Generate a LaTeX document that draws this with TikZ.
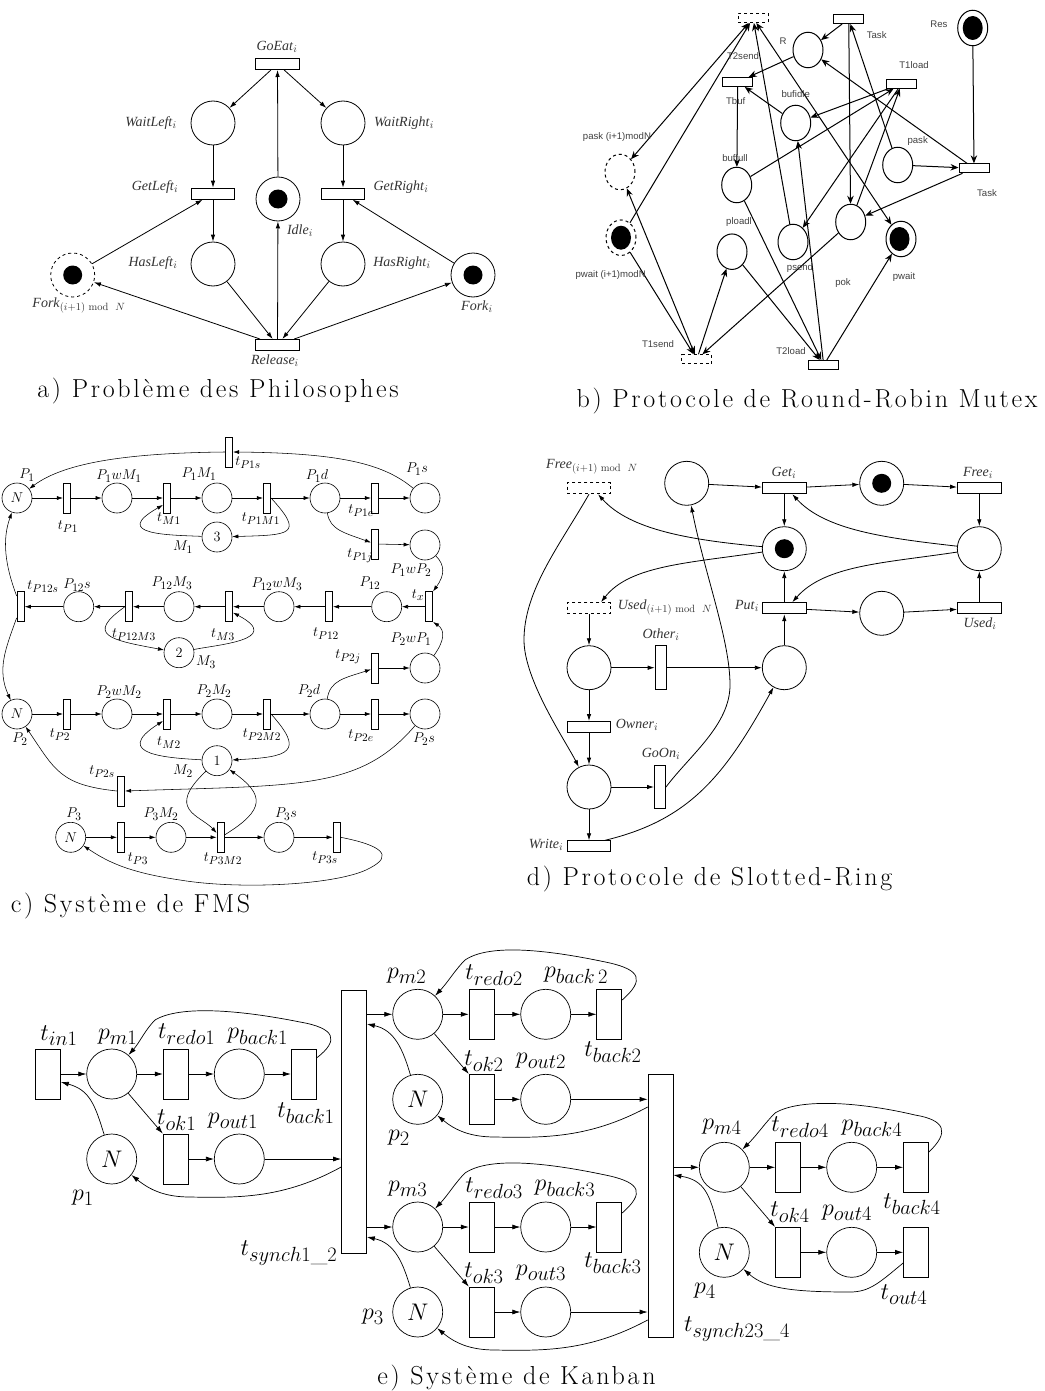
\documentclass[tikz,border=0pt]{standalone}
\usepackage{fix-cm}
\usepackage{fontspec}
\newfontfamily\timesf{Liberation Serif}
\newfontfamily\arialf{Liberation Sans}
\newfontfamily\legf{Latin Modern Roman}[LetterSpace=10.5]
\DeclareMathSizes{14}{14}{10.5}{8}
\DeclareMathSizes{14.2}{14.2}{11.4}{9}
\DeclareMathSizes{24}{24}{20.5}{15}
\usetikzlibrary{shapes.geometric,arrows.meta}
\tikzset{
	place/.style={circle,draw,inner sep=0pt},
	trans/.style={rectangle,draw,fill=white,inner sep=0pt},
	pa/.style={place,line width=.8pt,minimum size=44pt},
	pb/.style={ellipse,draw,inner sep=0pt,line width=1pt,minimum width=30pt,minimum height=35.5pt},
	pc/.style={place,line width=.6pt,minimum size=30pt,font=\fontsize{14.2}{16}\selectfont},
	pe/.style={place,line width=.7pt,minimum size=50pt,font=\fontsize{24}{26}\selectfont},
	ta/.style={trans,line width=1pt,minimum width=43.5pt,minimum height=11pt},
	tav/.style={trans,line width=1pt,minimum width=11pt,minimum height=43.5pt},
	tb/.style={trans,line width=1pt,minimum width=30pt,minimum height=9pt},
	tc/.style={trans,line width=.6pt,minimum width=7.5pt,minimum height=30pt},
	te/.style={trans,line width=.7pt,minimum width=25pt,minimum height=50pt},
	tbig/.style={trans,line width=.7pt,minimum width=25pt,minimum height=263pt},
	tokena/.style={circle,fill,inner sep=0pt,minimum size=19pt},
	tokenb/.style={ellipse,fill,inner sep=0pt,minimum width=20pt,minimum height=24pt},
	arca/.style={-{Latex[length=7pt,width=4.5pt]},line width=.8pt},
	arcb/.style={-{Stealth[length=8pt,width=6.5pt]},line width=1pt},
	arcbb/.style={{Stealth[length=8pt,width=6.5pt]}-{Stealth[length=8pt,width=6.5pt]},line width=1pt},
	arcc/.style={-{Latex[length=6pt,width=4pt]},line width=.55pt},
	arce/.style={-{Latex[length=8pt,width=5pt]},line width=.7pt},
	laba/.style={inner sep=0pt,text=black!80,font=\timesf\fontsize{14}{16}\selectfont},
	labb/.style={inner sep=0pt,text=black!75,font=\arialf\fontsize{9.6}{11}\selectfont},
	labc/.style={inner sep=0pt,font=\fontsize{14.2}{16}\selectfont},
	labe/.style={inner sep=0pt,font=\fontsize{24}{26}\selectfont},
	legende/.style={inner sep=0pt,font=\legf\fontsize{26}{30}\selectfont},
}
\begin{document}
\begin{tikzpicture}[x=1pt,y=-1pt]
	\useasboundingbox(0,0)rectangle(1044,1391);
	\node[ta](aGoEat)at(277.5,64){};
	\node[pa](aWaitLeft)at(213,123){};
	\node[pa](aWaitRight)at(343,123){};
	\node[ta](aGetLeft)at(213,193.7){};
	\node[ta](aGetRight)at(343,193.7){};
	\node[pa](aIdle)at(278,199){};
	\node[tokena](aIdleTok)at(278,199){};
	\node[pa](aHasLeft)at(213,264){};
	\node[pa](aHasRight)at(343,264){};
	\node[pa,dashed](aForkN)at(72.7,275){};
	\node[tokena](aForkNTok)at(72.7,275){};
	\node[pa](aFork)at(473,275){};
	\node[tokena](aForkTok)at(473,275){};
	\node[ta](aRelease)at(277.5,345){};
	\draw[arca](aGoEat)--(aWaitLeft);
	\draw[arca](aGoEat)--(aWaitRight);
	\draw[arca](aIdle)--(aGoEat);
	\draw[arca](aWaitLeft)--(aGetLeft);
	\draw[arca](aWaitRight)--(aGetRight);
	\draw[arca](aGetLeft)--(aHasLeft);
	\draw[arca](aGetRight)--(aHasRight);
	\draw[arca](aForkN)--(aGetLeft);
	\draw[arca](aFork)--(aGetRight);
	\draw[arca](aHasLeft)--(aRelease);
	\draw[arca](aHasRight)--(aRelease);
	\draw[arca](aRelease)--(aIdle);
	\draw[arca](aRelease)--(aForkN);
	\draw[arca](aRelease)--(aFork);
	\node[laba](laGoEat)at(277,47){\textit{GoEat}$_i$};
	\node[laba](laWaitLeft)at(151,123){\textit{WaitLeft}$_i$};
	\node[laba](laWaitRight)at(404,123){\textit{WaitRight}$_i$};
	\node[laba](laGetLeft)at(155,187){\textit{GetLeft}$_i$};
	\node[laba](laGetRight)at(401,187){\textit{GetRight}$_i$};
	\node[laba](laIdle)at(300,231){\textit{Idle}$_i$};
	\node[laba](laHasLeft)at(153,263){\textit{HasLeft}$_i$};
	\node[laba](laHasRight)at(402,263){\textit{HasRight}$_i$};
	\node[laba](laForkN)at(79,305){\textit{Fork}$_{(i+1)\ \mathrm{mod}\ \ N}$};
	\node[laba](laFork)at(477,307){\textit{Fork}$_i$};
	\node[laba](laRelease)at(275,361){\textit{Release}$_i$};
	\node[legende](capA)at(218,391.5){a) Problème des Philosophes};

	\node[tb,dashed](bT2send)at(753,18){};
	\node[tb](bTaskA)at(848.7,19){};
	\node[pb](bR)at(808,50){};
	\node[pb](bRes)at(972.7,28){};
	\node[tokenb](bResTok)at(972.7,28){};
	\node[tb](bTbuf)at(737.7,82){};
	\node[tb](bT1load)at(901.7,83.7){};
	\node[pb](bBufidle)at(795.7,123){};
	\node[pb,dashed](bPaskN)at(620,172){};
	\node[pb](bBuffull)at(736.7,185){};
	\node[pb](bPask)at(897.7,165){};
	\node[tb](bTaskB)at(974,168.3){};
	\node[pb,dashed](bPwaitN)at(621,237.7){};
	\node[tokenb](bPwaitNTok)at(621,237.7){};
	\node[pb](bPload)at(732,251.7){};
	\node[pb](bPsend)at(793,242){};
	\node[pb](bPok)at(850.7,222){};
	\node[pb](bPwait)at(901,239){};
	\node[tokenb](bPwaitTok)at(899.5,239){};
	\node[tb,dashed](bT1send)at(696.8,359.3){};
	\node[tb](bT2load)at(823.7,365){};
	\draw[arcb](bTaskA)--(bR);
	\draw[arcb](bTaskA)--(bPok);
	\draw[arcb](bPask)--(bTaskA);
	\draw[arcb](bR)--(bTbuf);
	\draw[arcb](bTbuf)--(bBuffull);
	\draw[arcb](bBufidle)--(bTbuf);
	\draw[arcb](bT1load)--(bBufidle);
	\draw[arcb](bBuffull)--(bT1load);
	\draw[arcb](bT1load)--(bPsend);
	\draw[arcb](bPok)--(bT1load);
	\draw[arcb](bPsend)--(bT2send);
	\draw[arcb](bPwaitN)--(bT2send);
	\draw[arcbb](bT2send)--(bPaskN);
	\draw[arcbb](bT2send)--(bPwait);
	\draw[arcb](bTaskB)--(bR);
	\draw[arcb](bTaskB)--(bPok);
	\draw[arcb](bPask)--(bTaskB);
	\draw[arcb](bRes)--(bTaskB);
	\draw[arcbb](bT1send)--(bPaskN);
	\draw[arcb](bPwaitN)--(bT1send);
	\draw[arcb](bT1send)--(bPload);
	\draw[arcb](bPok)--(bT1send);
	\draw[arcb](bPload)--(bT2load);
	\draw[arcb](bBuffull)--(bT2load);
	\draw[arcb](bT2load)--(bBufidle);
	\draw[arcb](bT2load)--(bPwait);
	\node[labb](lbT2send)at(743,56){T2send};
	\node[labb](lbTaskA)at(876.7,35){Task};
	\node[labb](lbR)at(783,41){R};
	\node[labb](lbRes)at(939,24){Res};
	\node[labb](lbT1load)at(914,65){T1load};
	\node[labb](lbBufidle)at(795.7,94){bufidle};
	\node[labb](lbTbuf)at(735.7,101){Tbuf};
	\node[labb](lbPaskN)at(617,137){pask (i+1)modN};
	\node[labb](lbBuffull)at(735,158){buffull};
	\node[labb](lbPask)at(917.7,141){pask};
	\node[labb](lbTaskB)at(987,192.7){Task};
	\node[labb](lbPload)at(739,222){ploadl};
	\node[labb](lbPsend)at(800,268){psend};
	\node[labb](lbPok)at(843,283){pok};
	\node[labb](lbPwait)at(904,277){pwait};
	\node[labb](lbPwaitN)at(610.7,275){pwait (i+1)modN};
	\node[labb](lbT1send)at(658,344){T1send};
	\node[labb](lbT2load)at(791,351){T2load};
	\node[legende](capB)at(807,401.5){b) Protocole de Round-Robin Mutex};

	\node[pc](cN1)at(17,498){$N$};
	\node[tc](cTP1)at(67,498){};
	\node[pc](cP1wM1)at(117,498){};
	\node[tc](cTM1)at(167,498){};
	\node[pc](cP1M1)at(217,498){};
	\node[tc](cTP1M1)at(267,498){};
	\node[pc](cP1d)at(325,498){};
	\node[tc](cTP1e)at(375,498){};
	\node[pc](cP1s)at(425,498){};
	\node[tc](cTP1s)at(229,452){};
	\node[pc](cM1)at(217,537){3};
	\node[tc](cTP1j)at(375,544){};
	\node[pc](cP1wP2)at(425,545){};
	\node[tc](cTx)at(429,606.7){};
	\node[pc](cP12)at(386.7,606.7){};
	\node[tc](cTP12)at(329,606.7){};
	\node[pc](cP12wM3)at(279,606.7){};
	\node[tc](cTM3)at(229,606.7){};
	\node[pc](cP12M3)at(179,606.7){};
	\node[tc](cTP12M3)at(129,606.7){};
	\node[pc](cP12s)at(78.7,606.7){};
	\node[tc](cTP12s)at(20.7,606.7){};
	\node[pc](cM3)at(179,652.7){2};
	\node[tc](cTP2j)at(375,668){};
	\node[pc](cP2wP1)at(425,668){};
	\node[pc](cN2)at(17,714){$N$};
	\node[tc](cTP2)at(67,714){};
	\node[pc](cP2wM2)at(117,714){};
	\node[tc](cTM2)at(167,714){};
	\node[pc](cP2M2)at(217,714){};
	\node[tc](cTP2M2)at(267,714){};
	\node[pc](cP2d)at(325,714){};
	\node[tc](cTP2e)at(375,714){};
	\node[pc](cP2s)at(425,714){};
	\node[pc](cM2)at(217,760.7){1};
	\node[tc](cTP2s)at(121,791){};
	\node[pc](cN3)at(70.7,837.3){$N$};
	\node[tc](cTP3)at(121,837.3){};
	\node[pc](cP3M2)at(171,837.3){};
	\node[tc](cTP3M2)at(220.7,837.3){};
	\node[pc](cP3s)at(279,837.3){};
	\node[tc](cTP3s)at(336.7,837.3){};
	\draw[arcc](cN1)--(cTP1);
	\draw[arcc](cTP1)--(cP1wM1);
	\draw[arcc](cP1wM1)--(cTM1);
	\draw[arcc](cTM1)--(cP1M1);
	\draw[arcc](cP1M1)--(cTP1M1);
	\draw[arcc](cTP1M1)--(cP1d);
	\draw[arcc](cP1d)--(cTP1e);
	\draw[arcc](cTP1e)--(cP1s);
	\draw[arcc](cTP1j)--(cP1wP2);
	\draw[arcc](cTx)--(cP12);
	\draw[arcc](cP12)--(cTP12);
	\draw[arcc](cTP12)--(cP12wM3);
	\draw[arcc](cP12wM3)--(cTM3);
	\draw[arcc](cTM3)--(cP12M3);
	\draw[arcc](cP12M3)--(cTP12M3);
	\draw[arcc](cTP12M3)--(cP12s);
	\draw[arcc](cP12s)--(cTP12s);
	\draw[arcc](cTP2j)--(cP2wP1);
	\draw[arcc](cN2)--(cTP2);
	\draw[arcc](cTP2)--(cP2wM2);
	\draw[arcc](cP2wM2)--(cTM2);
	\draw[arcc](cTM2)--(cP2M2);
	\draw[arcc](cP2M2)--(cTP2M2);
	\draw[arcc](cTP2M2)--(cP2d);
	\draw[arcc](cP2d)--(cTP2e);
	\draw[arcc](cTP2e)--(cP2s);
	\draw[arcc](cN3)--(cTP3);
	\draw[arcc](cTP3)--(cP3M2);
	\draw[arcc](cP3M2)--(cTP3M2);
	\draw[arcc](cTP3M2)--(cP3s);
	\draw[arcc](cP3s)--(cTP3s);
	\draw[arcc](cTP1s.west)..controls(130,453)and(65,462)..(cN1);
	\draw[arcc](cP1s)..controls(385,465)and(345,453)..(cTP1s.east);
	\draw[arcc](cTP12s)..controls(5,565)and(2,540)..(cN1);
	\draw[arcc](cTP12s)..controls(5,650)and(-3,670)..(cN2);
	\draw[arcc](cP1d)..controls(330,530)and(345,533)..(cTP1j);
	\draw[arcc](cP1wP2)..controls(445,565)and(445,575)..(cTx.north east);
	\draw[arcc](cP2wP1)..controls(445,640)and(445,630)..(cTx.south east);
	\draw[arcc](cTP1M1.east)..controls(305,535)and(290,535)..(cM1);
	\draw[arcc](cM1)..controls(170,535)and(110,535)..([yshift=-7pt]cTM1.west);
	\draw[arcc](cTP12M3.west)..controls(85,635)and(110,640)..(cM3);
	\draw[arcc](cM3)..controls(215,645)and(285,640)..([yshift=-6pt]cTM3.east);
	\draw[arcc](cTP2M2.east)..controls(305,752)and(290,757)..(cM2);
	\draw[arcc](cM2)..controls(170,758)and(110,755)..([yshift=-7pt]cTM2.west);
	\draw[arcc](cP2d)..controls(330,680)and(345,678)..(cTP2j);
	\draw[arcc](cM2)..controls(165,810)and(200,815)..(cTP3M2);
	\draw[arcc](cTP3M2)..controls(265,810)and(265,795)..(cM2);
	\draw[arcc](cP2s)..controls(360,790)and(300,785)..(cTP2s.east);
	\draw[arcc](cTP2s.west)..controls(60,785)and(55,770)..(cN2);
	\draw[arcc](cTP3s.east)..controls(380,845)and(395,855)..(370,868)..controls(340,885)and(240,890)..(180,880)..controls(125,872)and(105,860)..(cN3);
	\node[labc](lcP1)at(27,475){$P_1$};
	\node[labc](lcTP1)at(68,527){$t_{P1}$};
	\node[labc](lcP1wM1)at(119,476){$P_1wM_1$};
	\node[labc](lcP1M1)at(199,474){$P_1M_1$};
	\node[labc](lcTP1s)at(248,463){$t_{P1s}$};
	\node[labc](lcP1d)at(317,476){$P_1d$};
	\node[labc](lcP1s)at(417,469){$P_1s$};
	\node[labc](lcTM1)at(169,519){$t_{M1}$};
	\node[labc](lcTP1M1)at(261,519){$t_{P1M1}$};
	\node[labc](lcTP1e)at(361,511){$t_{P1e}$};
	\node[labc](lcTP1j)at(360,556){$t_{P1j}$};
	\node[labc](lcM1)at(183,547){$M_1$};
	\node[labc](lcP1wP2)at(411,570){$P_1wP_2$};
	\node[labc](lcTx)at(418,595){$t_x$};
	\node[labc](lcP12)at(370,583){$P_{12}$};
	\node[labc](lcP12wM3)at(277,584){$P_{12}wM_3$};
	\node[labc](lcP12M3)at(172,583){$P_{12}M_3$};
	\node[labc](lcP12s)at(77,585){$P_{12}s$};
	\node[labc](lcTP12s)at(43,587){$t_{P12s}$};
	\node[labc](lcTP12M3)at(134,635){$t_{P12M3}$};
	\node[labc](lcTM3)at(223,635){$t_{M3}$};
	\node[labc](lcTP12)at(326,634){$t_{P12}$};
	\node[labc](lcP2wP1)at(411,639){$P_2wP_1$};
	\node[labc](lcTP2j)at(348,657){$t_{P2j}$};
	\node[labc](lcM3)at(206,662){$M_3$};
	\node[labc](lcP2wM2)at(119,692){$P_2wM_2$};
	\node[labc](lcP2M2)at(214,691){$P_2M_2$};
	\node[labc](lcP2d)at(309,691){$P_2d$};
	\node[labc](lcTP2)at(60,735){$t_{P2}$};
	\node[labc](lcP2)at(20,739){$P_2$};
	\node[labc](lcTM2)at(169,743){$t_{M2}$};
	\node[labc](lcTP2M2)at(262,735){$t_{P2M2}$};
	\node[labc](lcTP2e)at(361,736){$t_{P2e}$};
	\node[labc](lcP2s)at(424,739){$P_2s$};
	\node[labc](lcM2)at(183,771){$M_2$};
	\node[labc](lcTP2s)at(102,772){$t_{P2s}$};
	\node[labc](lcP3)at(74,814){$P_3$};
	\node[labc](lcP3M2)at(161,814){$P_3M_2$};
	\node[labc](lcP3s)at(286,814){$P_3s$};
	\node[labc](lcTP3)at(138,859){$t_{P3}$};
	\node[labc](lcTP3M2)at(223,859){$t_{P3M2}$};
	\node[labc](lcTP3s)at(325,858){$t_{P3s}$};
	\node[legende](capC)at(130.5,906.5){c) Système de FMS};

	\node[ta,dashed](dFreeN)at(589,488.2){};
	\node[pa](dPa)at(686.7,483.3){};
	\node[ta](dGet)at(784.3,488.2){};
	\node[pa](dPb)at(881.7,483.3){};
	\node[tokena](dPbTok)at(881.7,483.3){};
	\node[ta](dFree)at(979.3,488.2){};
	\node[pa](dPc)at(784.3,548.7){};
	\node[tokena](dPcTok)at(784.3,548.7){};
	\node[pa](dPd)at(979.3,548.7){};
	\node[ta,dashed](dUsedN)at(589,608.2){};
	\node[ta](dPut)at(784.3,608.2){};
	\node[pa](dPe)at(881.7,613.3){};
	\node[ta](dUsed)at(979.3,608.2){};
	\node[pa](dPf)at(589,667.7){};
	\node[tav](dOther)at(660.7,667.7){};
	\node[pa](dPg)at(784.3,667.7){};
	\node[ta](dOwner)at(589,727){};
	\node[pa](dPh)at(589,787){};
	\node[tav](dGoOn)at(660,787){};
	\node[ta](dWrite)at(589,846.3){};
	\draw[arca](dPa)--(dGet);
	\draw[arca](dGet)--(dPb);
	\draw[arca](dPb)--(dFree);
	\draw[arca](dGet)--(dPc);
	\draw[arca](dFree)--(dPd);
	\draw[arca](dPut)--(dPc);
	\draw[arca](dPut)--(dPe);
	\draw[arca](dPe)--(dUsed);
	\draw[arca](dUsed)--(dPd);
	\draw[arca](dPg)--(dPut);
	\draw[arca](dUsedN)--(dPf);
	\draw[arca](dPf)--(dOther);
	\draw[arca](dOther)--(dPg);
	\draw[arca](dPf)--(dOwner);
	\draw[arca](dOwner)--(dPh);
	\draw[arca](dPh)--(dGoOn);
	\draw[arca](dPh)--(dWrite);
	\draw[arca](dPc)..controls(690,540)and(630,530)..([xshift=9pt]dFreeN.south);
	\draw[arca](dPc)..controls(690,563)and(630,565)..([xshift=12pt]dUsedN.north);
	\draw[arca](dPd)..controls(885,538)and(825,530)..([xshift=8pt]dGet.south);
	\draw[arca](dPd)..controls(885,563)and(825,565)..([xshift=8pt]dPut.north);
	\draw[arca]([xshift=16pt]dWrite.north)..controls(690,820)and(725,775)..(dPg);
	\draw[arca](dGoOn.east)..controls(690,755)and(730,725)..(730,685)..controls(730,640)and(705,575)..(dPa);
	\draw[arca](dFreeN.south)..controls(560,545)and(524,590)..(524,640)..controls(524,680)and(565,740)..(dPh);
	\node[laba](ldFreeN)at(592,467){\textit{Free}$_{(i+1)\ \mathrm{mod}\ \ N}$};
	\node[laba](ldGet)at(784,473){\textit{Get}$_i$};
	\node[laba](ldFree)at(978,473){\textit{Free}$_i$};
	\node[laba](ldUsedN)at(665,607){\textit{Used}$_{(i+1)\ \mathrm{mod}\ \ N}$};
	\node[laba](ldPut)at(747,606){\textit{Put}$_i$};
	\node[laba](ldUsed)at(980,624){\textit{Used}$_i$};
	\node[laba](ldOther)at(661,635){\textit{Other}$_i$};
	\node[laba](ldOwner)at(637,725){\textit{Owner}$_i$};
	\node[laba](ldGoOn)at(661,754){\textit{GoOn}$_i$};
	\node[laba](ldWrite)at(546,845){\textit{Write}$_i$};
	\node[legende](capD)at(709.5,879){d) Protocole de Slotted-Ring};

	\node[te](eTin1)at(48,1074){};
	\node[pe](ePm1)at(111.7,1074){};
	\node[te](eTredo1)at(175.7,1074){};
	\node[pe](ePback1)at(239.3,1074){};
	\node[te](eTback1)at(303.7,1074){};
	\node[pe](eP1)at(111.7,1159){$N$};
	\node[te](eTok1)at(175.7,1159){};
	\node[pe](ePout1)at(239.3,1159){};
	\node[tbig](eTsynch12)at(354,1121.8){};
	\node[pe](ePm2)at(417.7,1014.3){};
	\node[te](eTredo2)at(481.7,1014.3){};
	\node[pe](ePback2)at(545.7,1014.3){};
	\node[te](eTback2)at(609.3,1014.3){};
	\node[pe](eP2)at(417.7,1099.3){$N$};
	\node[te](eTok2)at(481.7,1099.3){};
	\node[pe](ePout2)at(545.7,1099.3){};
	\node[pe](ePm3)at(417.7,1227){};
	\node[te](eTredo3)at(481.7,1227){};
	\node[pe](ePback3)at(545.7,1227){};
	\node[te](eTback3)at(609.3,1227){};
	\node[pe](eP3)at(417.7,1312){$N$};
	\node[te](eTok3)at(481.7,1312){};
	\node[pe](ePout3)at(545.7,1312){};
	\node[tbig](eTsynch234)at(660.5,1205.7){};
	\node[pe](ePm4)at(724.3,1167.3){};
	\node[te](eTredo4)at(788,1167.3){};
	\node[pe](ePback4)at(851.7,1167.3){};
	\node[te](eTback4)at(916,1167.3){};
	\node[pe](eP4)at(724.3,1252.3){$N$};
	\node[te](eTok4)at(788,1252.3){};
	\node[pe](ePout4)at(851.7,1252.3){};
	\node[te](eTout4)at(916,1252.3){};
	\draw[arce](eTin1)--(ePm1);
	\draw[arce](ePm1)--(eTredo1);
	\draw[arce](eTredo1)--(ePback1);
	\draw[arce](ePback1)--(eTback1);
	\draw[arce](ePm1)--(eTok1.north west);
	\draw[arce](eTok1)--(ePout1);
	\draw[arce](ePout1)--(ePout1-|eTsynch12.west);
	\draw[arce](ePm2-|eTsynch12.east)--(ePm2);
	\draw[arce](ePm2)--(eTredo2);
	\draw[arce](eTredo2)--(ePback2);
	\draw[arce](ePback2)--(eTback2);
	\draw[arce](ePm2)--(eTok2.north west);
	\draw[arce](eTok2)--(ePout2);
	\draw[arce](ePout2)--(ePout2-|eTsynch234.west);
	\draw[arce](ePm3-|eTsynch12.east)--(ePm3);
	\draw[arce](ePm3)--(eTredo3);
	\draw[arce](eTredo3)--(ePback3);
	\draw[arce](ePback3)--(eTback3);
	\draw[arce](ePm3)--(eTok3.north west);
	\draw[arce](eTok3)--(ePout3);
	\draw[arce](ePout3)--(ePout3-|eTsynch234.west);
	\draw[arce](ePm4-|eTsynch234.east)--(ePm4);
	\draw[arce](ePm4)--(eTredo4);
	\draw[arce](eTredo4)--(ePback4);
	\draw[arce](ePback4)--(eTback4);
	\draw[arce](ePm4)--(eTok4.north west);
	\draw[arce](eTok4)--(ePout4);
	\draw[arce](ePout4)--(eTout4);
	\draw[arce](eP1)..controls(95,1105)and(90,1090)..(eTin1.east|-62,1082);
	\draw[arce](eP2)..controls(403,1050)and(395,1030)..(eTsynch12.east|-368,1024);
	\draw[arce](eP3)..controls(403,1263)and(395,1243)..(eTsynch12.east|-368,1237);
	\draw[arce](eP4)..controls(710,1195)and(705,1180)..(eTsynch234.east|-675,1175);
	\draw[arce](eTback1.east|-317,1058)..controls(340,1040)and(335,1028)..(300,1022)..controls(240,1010)and(180,1005)..(155,1020)..controls(145,1030)and(140,1042)..(ePm1);
	\draw[arce](eTback2.east|-622,1000)..controls(645,980)and(640,970)..(610,963)..controls(550,950)and(490,943)..(465,960)..controls(455,970)and(448,982)..(ePm2);
	\draw[arce](eTback3.east|-622,1213)..controls(645,1193)and(640,1183)..(610,1176)..controls(550,1163)and(490,1156)..(465,1173)..controls(455,1183)and(448,1195)..(ePm3);
	\draw[arce](eTback4.east|-929,1152)..controls(950,1132)and(945,1120)..(915,1115)..controls(860,1102)and(800,1098)..(775,1113)..controls(765,1123)and(757,1135)..(ePm4);
	\draw[arce](eTsynch12.west|-342,1167)..controls(285,1198)and(240,1198)..(190,1197)..controls(165,1197)and(150,1190)..(eP1);
	\draw[arce](eTsynch234.west|-648,1107)..controls(590,1138)and(545,1138)..(495,1137)..controls(470,1137)and(455,1130)..(eP2);
	\draw[arce](eTsynch234.west|-648,1320)..controls(590,1351)and(545,1351)..(495,1350)..controls(470,1350)and(455,1343)..(eP3);
	\draw[arce](eTout4.west|-903,1263)..controls(880,1282)and(870,1292)..(850,1292)..controls(790,1292)and(765,1288)..(eP4);
	\node[labe](leTin1)at(59,1036){$t_{in1}$};
	\node[labe](lePm1)at(117.7,1037){$p_{m1}$};
	\node[labe](leTredo1)at(186.7,1034){$t_{redo1}$};
	\node[labe](lePback1)at(257.7,1036){$p_{back1}$};
	\node[labe](leTback1)at(306,1113){$t_{back1}$};
	\node[labe](leTok1)at(176.7,1120){$t_{ok1}$};
	\node[labe](lePout1)at(233,1121){$p_{out1}$};
	\node[labe](leP1)at(83,1198){$p_1$};
	\node[labe](lePm2)at(406.7,976){$p_{m2}$};
	\node[labe](leTredo2)at(494,975){$t_{redo2}$};
	\node[labe](lePback2)at(576,975){$p_{back\,2}$};
	\node[labe](leTback2)at(613,1052){$t_{back2}$};
	\node[labe](leTok2)at(484,1061){$t_{ok2}$};
	\node[labe](lePout2)at(541,1061){$p_{out2}$};
	\node[labe](leP2)at(399,1138){$p_2$};
	\node[labe](lePm3)at(407.7,1189){$p_{m3}$};
	\node[labe](leTredo3)at(494,1188){$t_{redo3}$};
	\node[labe](lePback3)at(565,1188){$p_{back3}$};
	\node[labe](leTback3)at(613,1263){$t_{back3}$};
	\node[labe](leTok3)at(484,1273){$t_{ok3}$};
	\node[labe](lePout3)at(541,1273){$p_{out3}$};
	\node[labe](leP3)at(373,1317){$p_3$};
	\node[labe](leTsynch12)at(289,1253){$t_{synch1\_2}$};
	\node[labe](leTsynch234)at(737,1329){$t_{synch23\_4}$};
	\node[labe](lePm4)at(722,1127){$p_{m4}$};
	\node[labe](leTredo4)at(800,1127){$t_{redo4}$};
	\node[labe](lePback4)at(872,1128){$p_{back4}$};
	\node[labe](leTback4)at(912,1204){$t_{back4}$};
	\node[labe](leTok4)at(790,1212){$t_{ok4}$};
	\node[labe](lePout4)at(847,1213){$p_{out4}$};
	\node[labe](leP4)at(705,1291){$p_4$};
	\node[labe](leTout4)at(904,1295){$t_{out4}$};
	\node[legende](capE)at(516.5,1378){e) Système de Kanban};
\end{tikzpicture}
\end{document}
